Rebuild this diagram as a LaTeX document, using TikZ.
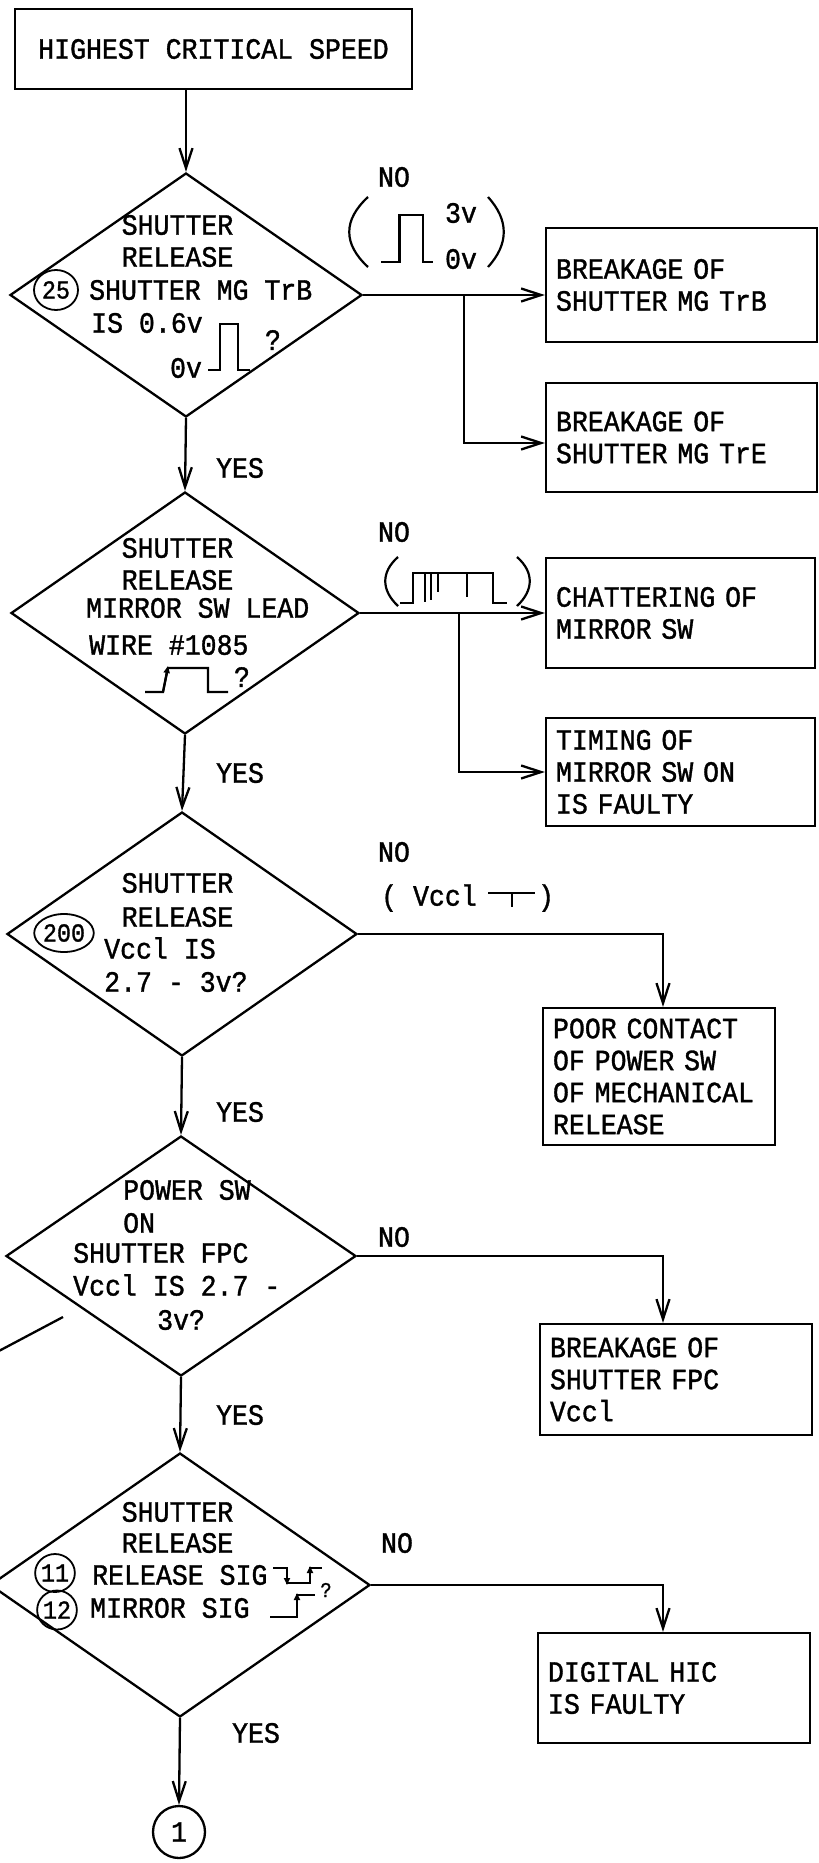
\documentclass[tikz,border=0pt]{standalone}
\usepackage{fontspec}
\newfontfamily\tw[FakeStretch=0.9,FakeBold=1.2]{Liberation Mono}
\usetikzlibrary{arrows.meta,shapes.geometric,calc}
\begin{document}
\begin{tikzpicture}[x=1pt,y=-1pt,
  ln/.style={line width=2.3pt},
  arr/.style={ln,-{Straight Barb[length=20pt,width=13pt]}},
  twf/.style={font=\tw\fontsize{29.5}{32}\selectfont, inner sep=0pt},
  lbl/.style={twf, anchor=west},
  cl/.style={twf, anchor=center},
  qsm/.style={font=\tw\fontsize{21}{24}\selectfont, inner sep=0pt, anchor=center},
  resbox/.style={draw, ln, rectangle, twf, inner xsep=10pt, inner ysep=0pt, align=left},
  dia/.style={draw, ln, diamond, inner sep=0pt},
  numc/.style={draw, line width=1.8pt, ellipse, inner sep=0pt, font=\tw\fontsize{26}{28}\selectfont},
  sig/.style={line width=2.2pt},
  tipup/.style={line width=2.2pt, -{Triangle[length=7pt,width=6pt]}},
]
\useasboundingbox (0,0) rectangle (819,1863);

% start box
\node[resbox, minimum width=397pt, minimum height=80pt] (top) at (213.5,49) {HIGHEST CRITICAL SPEED};

% diamonds
\node[dia, minimum width=352pt, minimum height=244pt] (d1) at (186,295) {};
\node[dia, minimum width=348pt, minimum height=242pt] (d2) at (185,613) {};
\node[dia, minimum width=350pt, minimum height=244pt] (d3) at (182,934) {};
\node[dia, minimum width=350pt, minimum height=240pt] (d4) at (181,1256) {};
\node[dia, minimum width=380pt, minimum height=264pt] (d5) at (180,1585) {};

% result boxes
\node[resbox, minimum width=271pt, text width=251pt, minimum height=114pt] (b1) at (681.5,285) {BREAKAGE OF\\SHUTTER MG TrB};
\node[resbox, minimum width=271pt, text width=251pt, minimum height=109pt] (b2) at (681.5,437.5) {BREAKAGE OF\\SHUTTER MG TrE};
\node[resbox, minimum width=269pt, text width=249pt, minimum height=110pt] (bc1) at (680.5,613) {CHATTERING OF\\MIRROR SW};
\node[resbox, minimum width=269pt, text width=249pt, minimum height=108pt] (bc2) at (680.5,772) {TIMING OF\\MIRROR SW ON\\IS FAULTY};
\node[resbox, minimum width=232pt, text width=212pt, minimum height=137pt] (bd) at (659,1076.5) {POOR CONTACT\\OF POWER SW\\OF MECHANICAL\\RELEASE};
\node[resbox, minimum width=272pt, text width=252pt, minimum height=111pt] (be) at (676,1379.5) {BREAKAGE OF\\SHUTTER FPC\\Vccl};
\node[resbox, minimum width=272pt, text width=252pt, minimum height=110pt] (bf) at (674,1688) {DIGITAL HIC\\IS FAULTY};

% connector circle
\node[draw, ln, circle, minimum size=52pt, twf] (conn) at (179,1832) {1};

% vertical flow
\draw[arr] (top.south -| d1.north) -- (d1.north);
\draw[arr] (d1.south) -- (d2.north);
\draw[arr] (d2.south) -- (d3.north);
\draw[arr] (d3.south) -- (d4.north);
\draw[arr] (d4.south) -- (d5.north);
\draw[arr] (d5.south) -- (conn.north);

% NO branches
\draw[arr] (d1.east) -- (d1.east -| b1.west);
\coordinate (j1) at (464,295);
\draw[arr] (j1) |- ($(b2.west)+(0,5.5)$);
\draw[arr] (d2.east) -- (d2.east -| bc1.west);
\coordinate (j2) at (459,613);
\draw[arr] (j2) |- (bc2.west);
\draw[arr] (d3.east) -| ($(bd.north)+(4,0)$);
\draw[arr] (d4.east) -| ($(be.north)+(-13,0)$);
\draw[arr] (d5.east) -| ($(bf.north)+(-11,0)$);

% YES / NO labels
\node[cl] (no1) at (394,177) {NO};
\node[cl] (no2) at (394,532) {NO};
\node[cl] (no3) at (394,852) {NO};
\node[cl] (no4) at (394,1237) {NO};
\node[cl] (no5) at (397,1543) {NO};
\node[cl] (yes1) at (240,468) {YES};
\node[cl] (yes2) at (240,773) {YES};
\node[cl] (yes3) at (240,1112) {YES};
\node[cl] (yes4) at (240,1415) {YES};
\node[cl] (yes5) at (256,1733) {YES};

% diamond 1 text
\node[cl] (t1a) at (177.5,225) {SHUTTER};
\node[cl] (t1b) at (177.5,257) {RELEASE};
\node[numc, minimum width=44pt, minimum height=40pt] (n25) at (56,290) {25};
\node[lbl] (t1c) at (89,290) {SHUTTER MG TrB};
\node[lbl] (t1d) at (91,323) {IS 0.6v};
\node[cl] (t1e) at (186,368) {0v};
\draw[sig] (208,370) -- (220,370) -- (220,324) -- (238,324) -- (238,370) -- (250,370);
\node[cl] (t1q) at (273,340) {?};

% NO 1 waveform
\draw[sig] (368,197) .. controls (343,220) and (343,244) .. (368,267);
\draw[sig] (488,197) .. controls (509,220) and (509,244) .. (488,267);
\draw[sig] (381,262) -- (399.5,262) -- (399.5,215) -- (423,215) -- (423,262) -- (433,262);
\node[cl] (w1a) at (461,213) {3v};
\node[cl] (w1b) at (461,259) {0v};

% diamond 2 text
\node[cl] (t2a) at (177.5,548) {SHUTTER};
\node[cl] (t2b) at (177.5,580) {RELEASE};
\node[lbl] (t2c) at (86,608) {MIRROR SW LEAD};
\node[lbl] (t2d) at (89,645) {WIRE \#1085};
\draw[sig] (145,692) -- (163,692) -- (168,668) -- (208,668) -- (208,692) -- (228,692);
\draw[tipup] (163,692) -- (168,666);
\node[cl] (t2q) at (242,677) {?};

% NO 2 waveform (chattering)
\draw[sig] (398,557) .. controls (381,572) and (381,590) .. (398,606);
\draw[sig] (517,557) .. controls (534,572) and (534,590) .. (517,606);
\draw[sig] (400,603) -- (413,603) -- (413,573) -- (493,573) -- (493,603) -- (507,603);
\draw[sig] (425,573) -- (425,602);
\draw[sig] (431,573) -- (431,600);
\draw[sig] (438,573) -- (438,592);
\draw[sig] (467,573) -- (467,597);

% diamond 3 text
\node[cl] (t3a) at (177.5,883) {SHUTTER};
\node[cl] (t3b) at (177.5,917) {RELEASE};
\node[numc, minimum width=58pt, minimum height=38pt] (n200) at (64,933) {200};
\node[lbl] (t3c) at (104,948) {Vccl IS};
\node[lbl] (t3d) at (104,982) {2.7 - 3v?};

% NO 3 annotation
\node[lbl] (v3) at (381,898) {( Vccl};
\draw[sig] (488,893) -- (535,893);
\draw[sig] (512,893) -- (512,907);
\node[cl] (v3r) at (546,898) {)};

% diamond 4 text
\node[lbl] (t4a) at (123,1190) {POWER SW};
\node[lbl] (t4b) at (123,1223) {ON};
\node[lbl] (t4c) at (73,1253) {SHUTTER FPC};
\node[lbl] (t4d) at (73,1285) {Vccl IS 2.7 -};
\node[lbl] (t4e) at (157,1320) {3v?};

% stray stroke
\draw[ln] (63,1317) -- (-3,1352);

% diamond 5 text
\node[cl] (t5a) at (177.5,1512) {SHUTTER};
\node[cl] (t5b) at (177.5,1543) {RELEASE};
\node[numc, minimum width=39pt, minimum height=38pt] (n11) at (55,1573) {11};
\node[lbl] (t5c) at (92,1575) {RELEASE SIG};
\node[numc, minimum width=39pt, minimum height=39pt] (n12) at (57,1610) {12};
\node[lbl] (t5d) at (90,1608) {MIRROR SIG};
\draw[sig] (273,1568) -- (287,1568) -- (287,1583) -- (310,1583) -- (310,1568) -- (322,1568);
\draw[tipup] (287,1568) -- (287,1585);
\draw[tipup] (310,1583) -- (310,1566);
\draw[sig] (270,1617) -- (297,1617) -- (297,1595) -- (315,1595);
\draw[tipup] (297,1617) -- (297,1593);
\node[qsm] (t5q) at (326,1590) {?};
\end{tikzpicture}
\end{document}
